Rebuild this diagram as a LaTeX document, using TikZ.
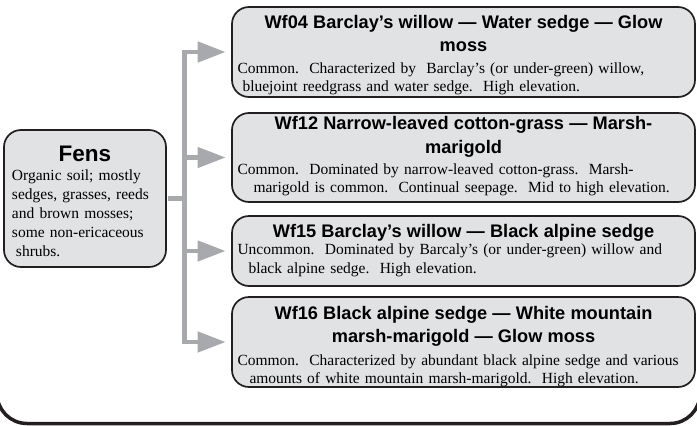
\documentclass[tikz,border=0pt]{standalone}
\usepackage{fontspec}
\setmainfont{Liberation Serif}
\newfontfamily\headfont{Liberation Sans}
\usetikzlibrary{positioning,arrows.meta}

\definecolor{inkblack}{HTML}{231F20}
\definecolor{fillgray}{HTML}{E1E2E4}
\definecolor{linkgray}{HTML}{A7A9AC}

\tikzset{
  unitbox/.style={draw=inkblack, line width=1.7pt, fill=fillgray, rounded corners=17pt,
    minimum width=463pt, inner sep=0pt},
  unittext/.style={text width=452pt, align=left, inner sep=0pt,
    font=\fontsize{15.5}{18.5}\selectfont},
  link/.style={draw=linkgray, line width=4.5pt},
  linkarrow/.style={link, -{Triangle[length=28pt,width=20pt]}, shorten >=5.5pt},
  frame/.style={draw=inkblack, line width=3.5pt, rounded corners=30pt},
}
\newcommand{\unithead}[1]{{\centering\headfont\bfseries\fontsize{18.2}{23.5}\selectfont #1\par}}

\begin{document}
\begin{tikzpicture}[x=1pt,y=-1pt]
    \useasboundingbox (0,0) rectangle (697,426);
    % outer frame, only its foot shows
    \begin{scope}
        \clip (0,0) rectangle (697,426);
        \draw[frame] (-3,-60) rectangle (700,423.5);
    \end{scope}

    % class
    \node[unitbox, minimum width=162pt, minimum height=137pt] (fens) at (85,198.5) {};
    \node[unittext, text width=146pt, anchor=base, font=\fontsize{15.5}{19}\selectfont] (fens-txt)
        at ([yshift=-32pt]fens.north)
        {{\centering\headfont\bfseries\fontsize{22.5}{28}\selectfont Fens\par}%
        Organic soil; mostly\\sedges, grasses, reeds\\and brown mosses;\\some non-ericaceous\\\hspace*{4pt}shrubs.};

    % community types
    \node[unitbox, minimum height=90pt] (wf04) at (463.5,52) {};
    \node[unittext, anchor=base] (wf04-txt) at ([yshift=-22pt]wf04.north)
        {\unithead{Wf04 Barclay’s willow — Water sedge — Glow\\moss}\vspace{3pt}%
        Common.\ \ Characterized by\ \ Barclay’s (or under-green) willow,\\\hspace*{5pt}bluejoint reedgrass and water sedge.\ \ High elevation.};

    \node[unitbox, minimum height=89pt] (wf12) at (463.5,157.5) {};
    \node[unittext, anchor=base] (wf12-txt) at ([yshift=-17.5pt]wf12.north)
        {\unithead{Wf12 Narrow-leaved cotton-grass — Marsh-\\marigold}\vspace{2.5pt}%
        Common.\ \ Dominated by narrow-leaved cotton-grass.\ \ Marsh-\\\hspace*{16pt}marigold is common.\ \ Continual seepage.\ \ Mid to high elevation.};

    \node[unitbox, minimum height=70pt] (wf15) at (463.5,251) {};
    \node[unittext, anchor=base] (wf15-txt) at ([yshift=-22.5pt]wf15.north)
        {\unithead{Wf15 Barclay’s willow — Black alpine sedge}\vspace{-1.5pt}%
        Uncommon.\ \ Dominated by Barcaly’s (or under-green) willow and\\\hspace*{11pt}black alpine sedge.\ \ High elevation.};

    \node[unitbox, minimum height=90pt] (wf16) at (463.5,342) {};
    \node[unittext, anchor=base] (wf16-txt) at ([yshift=-23pt]wf16.north)
        {\unithead{Wf16 Black alpine sedge — White mountain\\marsh-marigold — Glow moss}\vspace{4pt}%
        Common.\ \ Characterized by abundant black alpine sedge and various\\\hspace*{12pt}amounts of white mountain marsh-marigold.\ \ High elevation.};

    % connectors
    \coordinate (hub) at (184.5,198.5);
    \draw[link, shorten <=0.85pt] (fens.east) -- (hub);
    \foreach \unit in {wf04,wf12,wf15,wf16}
        \draw[linkarrow] (hub) |- (\unit.west);
\end{tikzpicture}
\end{document}
